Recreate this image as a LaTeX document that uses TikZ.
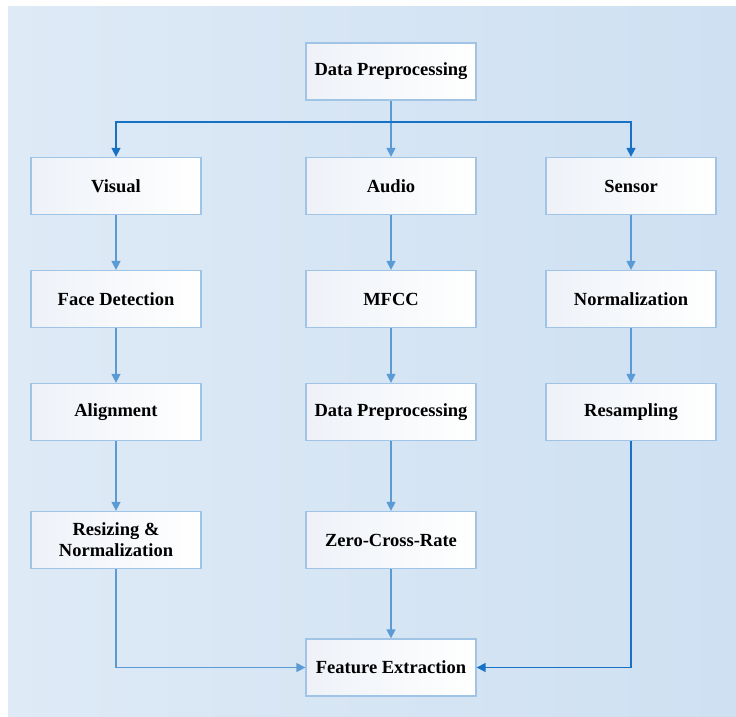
\documentclass[tikz,border=0pt]{standalone}
\usepackage{fontspec}
\setmainfont{Liberation Serif}
\usetikzlibrary{arrows.meta}
\definecolor{bgL}{RGB}{222,234,246}
\definecolor{bgR}{RGB}{206,224,242}
\definecolor{boxline}{RGB}{160,196,230}
\definecolor{arlight}{RGB}{91,155,213}
\definecolor{ardark}{RGB}{24,114,196}
\definecolor{boxL}{RGB}{238,242,248}
\tikzset{
  x=1pt, y=-1pt,
  stepbox/.style={draw=boxline, line width=1.3pt, left color=boxL, right color=white,
    minimum width=170pt, minimum height=57pt, inner sep=2pt, align=center,
    font=\fontsize{18.5}{21}\selectfont\bfseries},
  conn/.style={draw=arlight, line width=1.4pt, -{Triangle[length=9pt,width=9pt]}},
  conndark/.style={draw=ardark, line width=1.4pt, -{Triangle[length=9pt,width=9pt]}},
}
\begin{document}
\begin{tikzpicture}
\useasboundingbox (0,0) rectangle (736,717);
\shade[left color=bgL, right color=bgR] (8,7) rectangle (736,717);

\node[stepbox] (top) at (391,71.5) {Data Preprocessing};

\node[stepbox] (vis) at (116,186) {Visual};
\node[stepbox] (aud) at (391,186) {Audio};
\node[stepbox] (sen) at (631,186) {Sensor};

\node[stepbox] (face) at (116,299) {Face Detection};
\node[stepbox] (mfcc) at (391,299) {MFCC};
\node[stepbox] (norm) at (631,299) {Normalization};

\node[stepbox] (align) at (116,412) {Alignment};
\node[stepbox] (dpre) at (391,412) {Data Preprocessing};
\node[stepbox] (resam) at (631,412) {Resampling};

\node[stepbox] (resize) at (116,540) {Resizing \&\\Normalization};
\node[stepbox] (zcr) at (391,540) {Zero-Cross-Rate};

\node[stepbox] (feat) at (391,667.5) {Feature Extraction};

\coordinate (br) at (391,122);
\draw[conn] (top) -- (aud);
\draw[conndark] (br) -| (vis.north);
\draw[conndark] (br) -| (sen.north);

\draw[conn] (vis) -- (face);
\draw[conn] (face) -- (align);
\draw[conn] (align) -- (resize);
\draw[conn] (aud) -- (mfcc);
\draw[conn] (mfcc) -- (dpre);
\draw[conn] (dpre) -- (zcr);
\draw[conn] (zcr) -- (feat);
\draw[conn] (sen) -- (norm);
\draw[conn] (norm) -- (resam);

\draw[conn] (resize.south) |- (feat.west);
\draw[conndark] (resam.south) |- (feat.east);
\end{tikzpicture}
\end{document}
